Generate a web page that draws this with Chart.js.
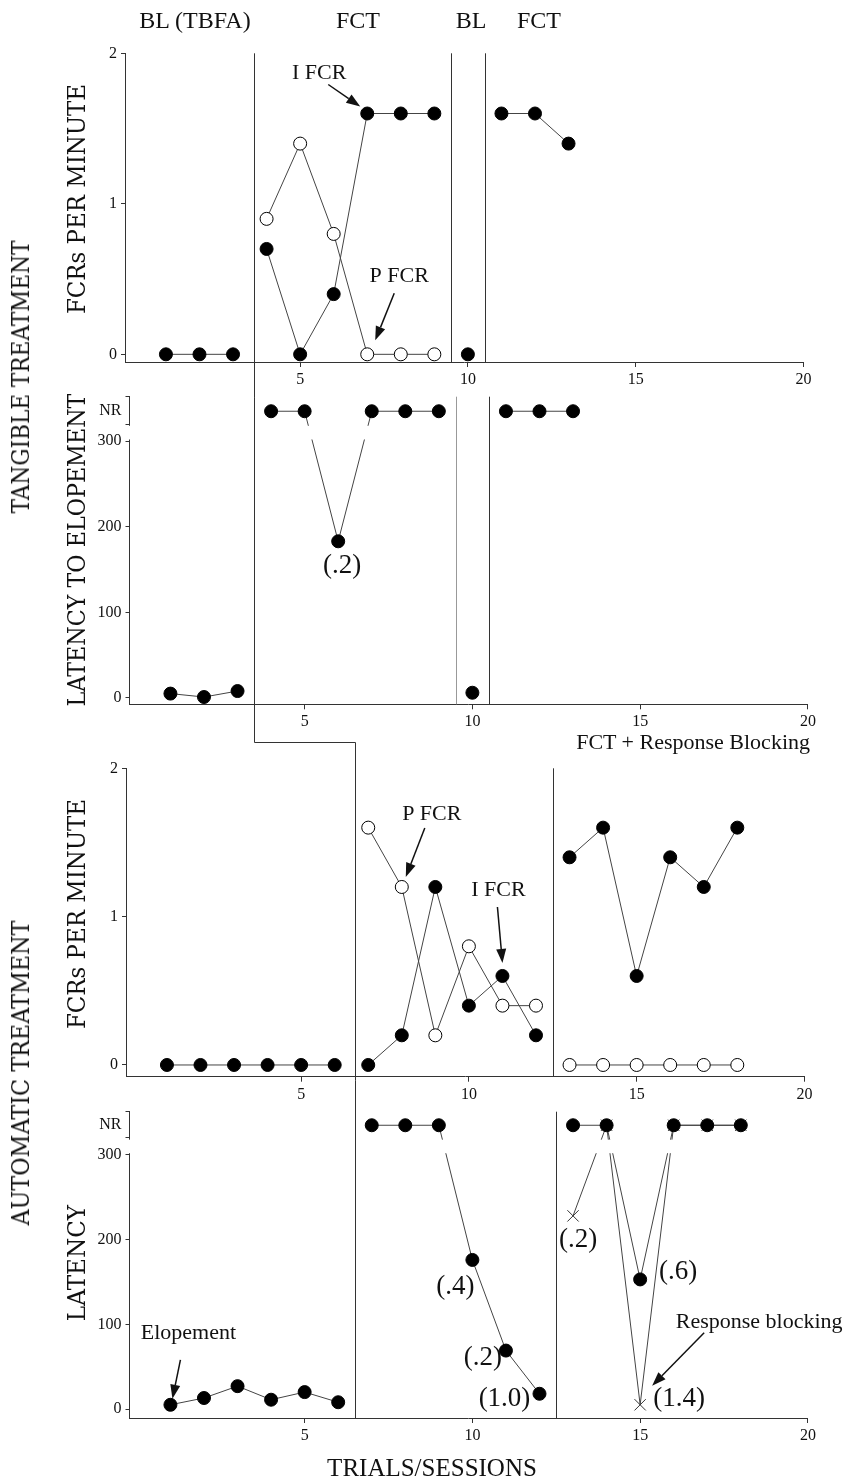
<!DOCTYPE html>
<html>
<head>
<meta charset="utf-8">
<script src="https://cdn.jsdelivr.net/npm/chart.js"></script>
<style>
  body { margin: 0; background: #fff; }
  #wrap { position: relative; width: 849px; height: 1482px; overflow: hidden; font-family: "Liberation Serif", serif; color: #111; }
  #wrap canvas { position: absolute; left: 0; top: 0; }
  .lbl { position: absolute; white-space: nowrap; line-height: 1; transform: translate(-50%, -50%); }
  .vlbl { position: absolute; white-space: nowrap; line-height: 1; font-family: "DejaVu Serif", serif; }
</style>
</head>
<body>
<div id="wrap">
  <canvas id="c1" width="849" height="1482"></canvas>
  <canvas id="c2" width="849" height="1482"></canvas>
  <canvas id="c3" width="849" height="1482"></canvas>
  <canvas id="c4" width="849" height="1482"></canvas>
  <canvas id="overlay" width="849" height="1482"></canvas>

  <div class="lbl" style="left:195px;top:20px;font-size:24px">BL (TBFA)</div>
  <div class="lbl" style="left:358px;top:20px;font-size:24px">FCT</div>
  <div class="lbl" style="left:471px;top:20px;font-size:24px">BL</div>
  <div class="lbl" style="left:539px;top:20px;font-size:24px">FCT</div>
  <div class="lbl" style="left:810px;top:742px;font-size:22px;transform:translate(-100%,-50%)">FCT + Response Blocking</div>
  <div class="lbl" style="left:432px;top:1467px;font-size:25px">TRIALS/SESSIONS</div>

  <div class="vlbl" style="left:21px;top:377px;font-size:24px;transform:translate(-50%,-50%) rotate(-90deg) scaleX(0.9)">TANGIBLE TREATMENT</div>
  <div class="vlbl" style="left:21px;top:1073px;font-size:24px;transform:translate(-50%,-50%) rotate(-90deg) scaleX(0.93)">AUTOMATIC TREATMENT</div>
  <div class="vlbl" style="left:76px;top:199px;font-size:25px;transform:translate(-50%,-50%) rotate(-90deg) scaleX(0.916)">FCRs PER MINUTE</div>
  <div class="vlbl" style="left:76px;top:550px;font-size:25px;transform:translate(-50%,-50%) rotate(-90deg) scaleX(0.89)">LATENCY TO ELOPEMENT</div>
  <div class="vlbl" style="left:76px;top:914px;font-size:25px;transform:translate(-50%,-50%) rotate(-90deg) scaleX(0.916)">FCRs PER MINUTE</div>
  <div class="vlbl" style="left:76px;top:1263px;font-size:25px;transform:translate(-50%,-50%) rotate(-90deg) scaleX(0.925)">LATENCY</div>
</div>

<script>
// ---- data ----
const NR = 'NR';   // no response (session ended without elopement)

const tangSessions = [1, 2, 3, 4, 5, 6, 7, 8, 9, 10, 11, 12, 13];
const tangFcrI = [0, 0, 0, 0.7, 0, 0.4, 1.6, 1.6, 1.6, 0, 1.6, 1.6, 1.4];
const tangFcrP = [null, null, null, 0.9, 1.4, 0.8, 0, 0, 0, null, null, null, null];
const tangLatency = [5, 1, 8, NR, NR, 183, NR, NR, NR, 6, NR, NR, NR];
const tangPhases = [[1, 3], [4, 9], [10, 10], [11, 13]];
const tangPhaseLines = [3.63, 9.5, 10.5];

const autoSessions = [1, 2, 3, 4, 5, 6, 7, 8, 9, 10, 11, 12, 13, 14, 15, 16, 17, 18];
const autoFcrI = [0, 0, 0, 0, 0, 0, 0, 0.2, 1.2, 0.4, 0.6, 0.2, 1.4, 1.6, 0.6, 1.4, 1.2, 1.6];
const autoFcrP = [null, null, null, null, null, null, 1.6, 1.2, 0.2, 0.8, 0.4, 0.4, 0, 0, 0, 0, 0, 0];
const autoLatency = [5, 13, 27, 11, 20, 8, NR, NR, NR, 176, 69, 18, NR, NR, 153, NR, NR, NR];
const autoBlockLatency = [null, null, null, null, null, null, null, null, null, null, null, null, 228, NR, 5, NR, NR, NR];
const autoPhases = [[1, 6], [7, 12], [13, 18]];
const autoPhaseLines = [6.6, 12.5];

const xTicks = [5, 10, 15, 20];
const fcrTicks = [0, 1, 2];
const latencyTicks = [0, 100, 200, 300];
const NR_LEVEL = 335;          // where NR sessions sit on the latency axis
const NR_BRACKET = [320, 352]; // bracket drawn around the NR label
const AXIS_BREAK = [302, 318]; // gap in the latency axis between 300 and NR

// ---- styling ----
const AXIS = '#333';
const LINE = '#444';
const FONT = 'Liberation Serif';
const CLEAR = 'rgba(0,0,0,0)';

function phaseOf(phases, s) {
  return phases.findIndex(([a, b]) => s >= a && s <= b);
}

function points(sessions, values) {
  return sessions.map((s, i) => ({ x: s, y: values[i] === NR ? NR_LEVEL : values[i] }));
}

function series(sessions, values, phases, kind) {
  const ds = {
    data: points(sessions, values),
    borderColor: LINE,
    borderWidth: 1,
    tension: 0,
    spanGaps: false,
    clip: false,
    pointRadius: 6.5,
    pointBorderWidth: 1,
    pointBorderColor: '#000',
    pointBackgroundColor: '#000',
    segment: {
      borderColor: c => phaseOf(phases, c.p0.parsed.x) === phaseOf(phases, c.p1.parsed.x) ? LINE : CLEAR
    }
  };
  if (kind === 'open') {
    ds.pointBackgroundColor = '#fff';
  } else if (kind === 'cross') {
    ds.pointStyle = 'crossRot';
    ds.pointRadius = 8;
    ds.pointBorderColor = '#333';
    ds.pointBackgroundColor = CLEAR;
  }
  return ds;
}

// white band that cuts the latency axis (and the lines) between 300 and NR
const axisBreak = {
  id: 'axisBreak',
  afterDatasetsDraw(chart, args, opts) {
    if (!opts.on) return;
    const y = chart.scales.y, a = chart.chartArea, ctx = chart.ctx;
    const top = y.getPixelForValue(AXIS_BREAK[1]);
    const bot = y.getPixelForValue(AXIS_BREAK[0]);
    ctx.save();
    ctx.fillStyle = '#fff';
    ctx.fillRect(a.left - 3, top, a.right - a.left + 3, bot - top);
    ctx.restore();
  }
};

const tickFont = { family: FONT, size: 16 };

function xAxis() {
  return {
    type: 'linear', min: -0.22, max: 20,
    afterFit: s => { s.height = 30; },
    afterBuildTicks: s => { s.ticks = xTicks.map(v => ({ value: v })); },
    grid: { drawOnChartArea: false, tickLength: 5, color: AXIS },
    border: { color: AXIS, width: 1 },
    ticks: { padding: 3, color: '#111', font: tickFont, maxRotation: 0 }
  };
}

function fcrAxis(min) {
  return {
    min: min, max: 2,
    afterFit: s => { s.width = 60; },
    afterBuildTicks: s => { s.ticks = fcrTicks.map(v => ({ value: v })); },
    grid: { drawOnChartArea: false, tickLength: 4, color: AXIS },
    border: { color: AXIS, width: 1 },
    ticks: { padding: 4, color: '#111', font: tickFont }
  };
}

function latencyAxis(min, max) {
  return {
    min: min, max: max,
    afterFit: s => { s.width = 60; },
    afterBuildTicks: s => {
      s.ticks = latencyTicks.concat([NR_BRACKET[0], NR_LEVEL, max]).map(v => ({ value: v }));
    },
    grid: {
      drawOnChartArea: false, tickLength: 4, color: AXIS,
      tickColor: c => (c.tick && c.tick.value === NR_LEVEL) ? CLEAR : AXIS
    },
    border: { color: AXIS, width: 1 },
    ticks: {
      padding: 4, color: '#111', font: tickFont,
      callback: v => v === NR_LEVEL ? 'NR' : (latencyTicks.includes(v) ? String(v) : '')
    }
  };
}

function panel(id, geo, yAxis, datasets, broken) {
  return new Chart(document.getElementById(id), {
    type: 'line',
    data: { datasets: datasets },
    plugins: [axisBreak],
    options: {
      responsive: false,
      animation: false,
      devicePixelRatio: 1,
      layout: {
        padding: { left: geo.left - 60, top: geo.top, right: 849 - geo.left - 678.4, bottom: 1482 - geo.bottom - 30 }
      },
      plugins: {
        legend: { display: false },
        tooltip: { enabled: false },
        axisBreak: { on: !!broken }
      },
      scales: { x: xAxis(), y: yAxis }
    }
  });
}

const charts = [
  panel('c1', { left: 125, top: 53.3, bottom: 362 }, fcrAxis(-0.051), [
    series(tangSessions, tangFcrI, tangPhases, 'filled'),
    series(tangSessions, tangFcrP, tangPhases, 'open')
  ]),
  panel('c2', { left: 129.5, top: 396.7, bottom: 704.3 }, latencyAxis(-7.5, 352), [
    series(tangSessions, tangLatency, tangPhases, 'filled')
  ], true),
  panel('c3', { left: 126, top: 768.3, bottom: 1076.7 }, fcrAxis(-0.079), [
    series(autoSessions, autoFcrI, autoPhases, 'filled'),
    series(autoSessions, autoFcrP, autoPhases, 'open')
  ]),
  panel('c4', { left: 129.5, top: 1111.7, bottom: 1418 }, latencyAxis(-10.6, 351), [
    series(autoSessions, autoLatency, autoPhases, 'filled'),
    series(autoSessions, autoBlockLatency, autoPhases, 'cross')
  ], true)
];

// ---- phase-change lines and annotations ----
const ov = document.getElementById('overlay').getContext('2d');
const px = (i, v) => charts[i].scales.x.getPixelForValue(v);
const py = (i, v) => charts[i].scales.y.getPixelForValue(v);
const crisp = v => Math.round(v) + 0.5;

ov.lineWidth = 1;
ov.strokeStyle = '#333';

// the staggered line that runs through all four panels
const xA1 = crisp(px(0, tangPhaseLines[0]));
const xA2 = crisp(px(2, autoPhaseLines[0]));
const yStep = crisp(charts[2].chartArea.top - 26);
ov.beginPath();
ov.moveTo(xA1, charts[0].chartArea.top);
ov.lineTo(xA1, yStep);
ov.lineTo(xA2, yStep);
ov.lineTo(xA2, charts[3].chartArea.bottom);
ov.stroke();

function vline(i, v, color) {
  const a = charts[i].chartArea, x = crisp(px(i, v));
  ov.strokeStyle = color;
  ov.beginPath();
  ov.moveTo(x, a.top);
  ov.lineTo(x, a.bottom);
  ov.stroke();
}
vline(0, tangPhaseLines[1], '#333');
vline(0, tangPhaseLines[2], '#333');
vline(1, tangPhaseLines[1], '#999');
vline(1, tangPhaseLines[2], '#333');
vline(2, autoPhaseLines[1], '#333');
vline(3, autoPhaseLines[1], '#333');

function arrow(x0, y0, x1, y1) {
  const ang = Math.atan2(y1 - y0, x1 - x0), len = 14, half = 5;
  const bx = x1 - len * Math.cos(ang), by = y1 - len * Math.sin(ang);
  ov.strokeStyle = '#111';
  ov.fillStyle = '#111';
  ov.lineWidth = 1.5;
  ov.beginPath();
  ov.moveTo(x0, y0);
  ov.lineTo(bx, by);
  ov.stroke();
  ov.beginPath();
  ov.moveTo(x1, y1);
  ov.lineTo(bx + half * Math.sin(ang), by - half * Math.cos(ang));
  ov.lineTo(bx - half * Math.sin(ang), by + half * Math.cos(ang));
  ov.closePath();
  ov.fill();
}

// text and arrows placed relative to the data point they describe
const notes = [
  { c: 0, x: 7, y: 1.6, text: 'I FCR', size: 22, dx: -48, dy: -40, arrow: [-39, -29, -7, -7] },
  { c: 0, x: 7, y: 0, text: 'P FCR', size: 22, dx: 32, dy: -78, arrow: [27, -61, 8, -14] },
  { c: 1, x: 6, y: 183, text: '(.2)', size: 27, dx: 4, dy: 25 },
  { c: 2, x: 8, y: 1.2, text: 'P FCR', size: 22, dx: 30, dy: -73, arrow: [23, -59, 4, -10] },
  { c: 2, x: 11, y: 0.6, text: 'I FCR', size: 22, dx: -4, dy: -86, arrow: [-5, -69, 0, -13] },
  { c: 3, x: 1, y: 5, text: 'Elopement', size: 22, dx: 18, dy: -72, arrow: [10, -45, 2, -6] },
  { c: 3, x: 10, y: 176, text: '(.4)', size: 27, dx: -17, dy: 27 },
  { c: 3, x: 11, y: 69, text: '(.2)', size: 27, dx: -23, dy: 7 },
  { c: 3, x: 12, y: 18, text: '(1.0)', size: 27, dx: -35, dy: 5 },
  { c: 3, x: 13, y: 228, text: '(.2)', size: 27, dx: 5, dy: 24 },
  { c: 3, x: 15, y: 153, text: '(.6)', size: 27, dx: 38, dy: -8 },
  { c: 3, x: 15, y: 5, text: '(1.4)', size: 27, dx: 39, dy: -6 },
  { c: 3, x: 15, y: 5, text: 'Response blocking', size: 22, dx: 119, dy: -83, arrow: [64, -72, 12, -19] }
];

notes.forEach(n => {
  const ax = px(n.c, n.x), ay = py(n.c, n.y);
  ov.fillStyle = '#111';
  ov.font = n.size + 'px "' + FONT + '"';
  ov.textAlign = 'center';
  ov.textBaseline = 'middle';
  ov.fillText(n.text, ax + n.dx, ay + n.dy);
  if (n.arrow) {
    arrow(ax + n.arrow[0], ay + n.arrow[1], ax + n.arrow[2], ay + n.arrow[3]);
  }
});
</script>
</body>
</html>
